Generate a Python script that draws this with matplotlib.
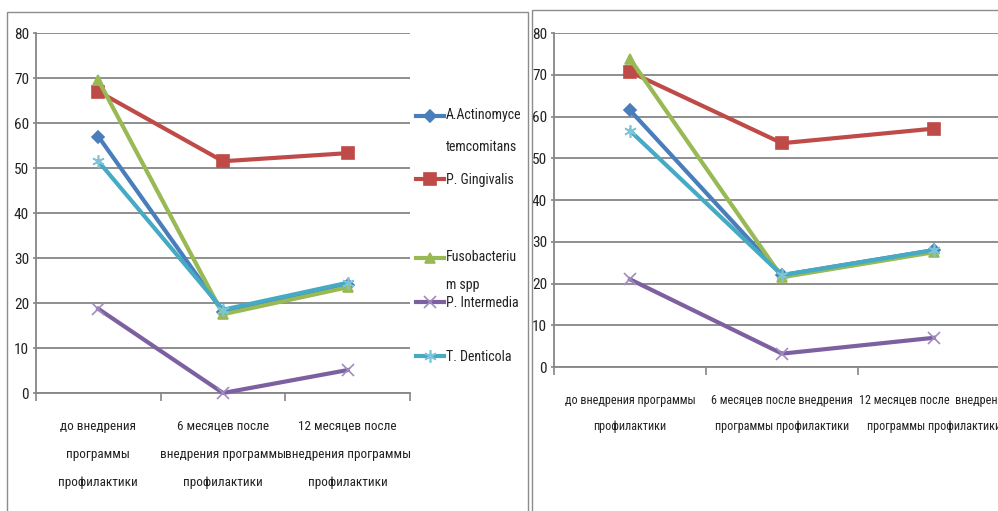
import numpy as np
import matplotlib
matplotlib.use('Agg')
import matplotlib.pyplot as plt
from matplotlib.patches import Rectangle
from matplotlib.legend_handler import HandlerLine2D

plt.rcParams['font.family'] = ['Liberation Sans Narrow', 'Roboto Condensed',
                               'DejaVu Sans Condensed', 'Noto Sans', 'DejaVu Sans']
plt.rcParams['font.stretch'] = 'condensed'

# series names and values (left: first survey, right: second survey)
series_names = ['A.Actinomyce\ntemcomitans', 'P. Gingivalis', 'Fusobacteriu\nm spp',
                'P. Intermedia', 'T. Denticola']
left_actino = [57, 18, 24]
left_gingivalis = [67, 51.5, 53.3]
left_fuso = [69.5, 17.5, 23.5]
left_intermedia = [18.7, 0, 5.1]
left_denticola = [51.5, 18.5, 24.5]

right_actino = [61.5, 22, 28]
right_gingivalis = [70.7, 53.6, 57.1]
right_fuso = [73.8, 21.5, 27.5]
right_intermedia = [21, 3.2, 7]
right_denticola = [56.6, 22, 28]

left_labels = ['до внедрения\nпрограммы\nпрофилактики',
               '6 месяцев после\nвнедрения программы\nпрофилактики',
               '12 месяцев после\nвнедрения программы\nпрофилактики']
right_labels = ['до внедрения программы\nпрофилактики',
                '6 месяцев после внедрения\nпрограммы профилактики',
                '12 месяцев после  внедрения\nпрограммы профилактики']
y_ticks = list(range(0, 81, 10))

line_colors = ['#4a7ebb', '#be4b48', '#98b954', '#7d60a0', '#46aac5']
marker_colors = ['#4a7ebb', '#be4b48', '#98b954', '#a08cc0', '#7cc4d8']
markers = ['D', 's', '^', 'x', (6, 2, 0)]
marker_sizes = [6, 8, 7, 9, 9]
grid_col = '#868686'
text_col = '#222222'

W, H = 998, 511
fig = plt.figure(figsize=(W / 100, H / 100), dpi=100)

# chart frames
fig.patches.append(Rectangle((7 / W, -0.05), 521 / W, 1.05 - 12 / H,
                             transform=fig.transFigure, fill=False,
                             edgecolor='#8c8c8c', lw=1))
fig.patches.append(Rectangle((532 / W, -0.05), 0.6, 1.05 - 10 / H,
                             transform=fig.transFigure, fill=False,
                             edgecolor='#8c8c8c', lw=1))


class FirstLineHandler(HandlerLine2D):
    """Legend handle lifted up to the first line of a wrapped label."""

    def __init__(self, dy, **kw):
        super().__init__(**kw)
        self.dy = dy

    def create_artists(self, *args, **kwargs):
        arts = super().create_artists(*args, **kwargs)
        for a in arts:
            a.set_ydata(np.asarray(a.get_ydata()) + self.dy)
        return arts


def draw_panel(rect, data, labels, label_size, label_pad, linesp):
    ax = fig.add_axes(rect)
    x = np.arange(3)
    lines = []
    for vals, lc, mc, m, ms in zip(data, line_colors, marker_colors, markers, marker_sizes):
        ln, = ax.plot(x, vals, color=lc, lw=3, marker=m, ms=ms,
                      markerfacecolor=mc, markeredgecolor=mc, mew=1.2,
                      clip_on=False, zorder=3)
        lines.append(ln)
    ax.set_xlim(-0.5, 2.5)
    ax.set_ylim(0, 80)
    ax.set_yticks(y_ticks)
    ax.yaxis.grid(True, color=grid_col, lw=1.3)
    ax.set_axisbelow(True)
    for s in ['top', 'right']:
        ax.spines[s].set_visible(False)
    for s in ['left', 'bottom']:
        ax.spines[s].set_color(grid_col)
        ax.spines[s].set_linewidth(1.3)
    ax.tick_params(axis='y', length=2.5, width=1.2, color=grid_col, pad=2.5,
                   labelsize=11, labelcolor=text_col)
    ax.set_xticks(x)
    ax.set_xticklabels(labels, fontsize=label_size, color=text_col,
                       linespacing=linesp)
    ax.set_xticks([-0.5, 0.5, 1.5, 2.5], minor=True)
    ax.tick_params(axis='x', which='major', length=0, pad=label_pad)
    ax.tick_params(axis='x', which='minor', length=6, width=1.2, color=grid_col)
    return ax, lines


left_data = [left_actino, left_gingivalis, left_fuso, left_intermedia, left_denticola]
right_data = [right_actino, right_gingivalis, right_fuso, right_intermedia, right_denticola]

ax1, handles = draw_panel([36 / W, (H - 393) / H, 374 / W, 360 / H],
                          left_data, left_labels, 9.5, 19.5, 2.5)
ax2, _ = draw_panel([554 / W, (H - 367) / H, 456 / W, 334 / H],
                    right_data, right_labels, 8.7, 19.5, 2.27)

# legend entries of the left chart, placed one by one
legend_y = [131, 180, 271, 303, 357]
legend_ls = [2.6, 1.2, 2.35, 1.2, 1.2]
for h, name, ly, ls in zip(handles, series_names, legend_y, legend_ls):
    wrapped = '\n' in name
    hm = {h: FirstLineHandler(11.2 * ls / 2.6 if wrapped else 0.0)}
    leg = fig.legend([h], [name], loc='center left',
                     bbox_to_anchor=(416 / W, 1 - ly / H),
                     frameon=False, handlelength=2.0, handler_map=hm,
                     handletextpad=0.15, borderpad=0, borderaxespad=0,
                     prop={'size': 10})
    for t in leg.get_texts():
        t.set_linespacing(ls)
        t.set_color(text_col)

fig.savefig('out.png', dpi=100)
